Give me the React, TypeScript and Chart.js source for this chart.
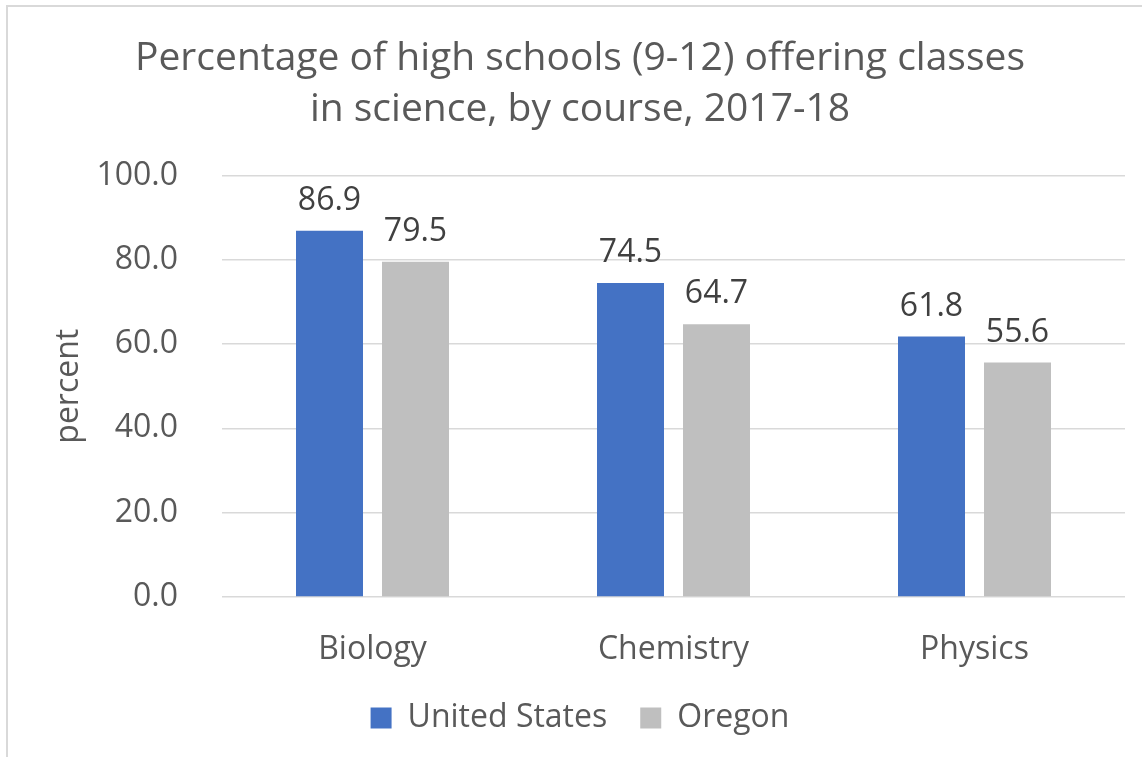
import React, { useEffect, useRef } from "react";
import { Chart, registerables } from "chart.js";

Chart.register(...registerables);

const categories = ["Biology", "Chemistry", "Physics"];
const unitedStates = [86.9, 74.5, 61.8];
const oregon = [79.5, 64.7, 55.6];
const seriesNames = ["United States", "Oregon"];
const titleLines = [
  "Percentage of high schools (9-12) offering classes",
  "in science, by course, 2017-18",
];
const yAxisTitle = "percent";

const FONT = "'Open Sans', 'Noto Sans', sans-serif";

const dataLabelPlugin = {
  id: "dataLabels",
  afterDatasetsDraw(chart: any) {
    const ctx = chart.ctx;
    ctx.save();
    ctx.font = `32px ${FONT}`;
    ctx.fillStyle = "#404040";
    ctx.textAlign = "center";
    ctx.textBaseline = "middle";
    chart.data.datasets.forEach((ds: any, i: number) => {
      const meta = chart.getDatasetMeta(i);
      meta.data.forEach((el: any, j: number) => {
        ctx.fillText(Number(ds.data[j]).toFixed(1), el.x, el.y - 30);
      });
    });
    ctx.restore();
  },
};

export default function App() {
  const ref = useRef<HTMLCanvasElement>(null);

  useEffect(() => {
    if (!ref.current) return;
    const chart = new Chart(ref.current, {
      type: "bar",
      data: {
        labels: categories,
        datasets: [
          {
            label: seriesNames[0],
            data: unitedStates,
            backgroundColor: "#4472C4",
            categoryPercentage: 0.5714,
            barPercentage: 0.779,
          },
          {
            label: seriesNames[1],
            data: oregon,
            backgroundColor: "#BFBFBF",
            categoryPercentage: 0.5714,
            barPercentage: 0.779,
          },
        ],
      },
      options: {
        responsive: false,
        animation: false,
        layout: { padding: { left: 35, right: 17, top: 0, bottom: 13 } },
        plugins: {
          title: {
            display: true,
            text: titleLines,
            color: "#595959",
            font: { family: FONT, size: 39, weight: "normal", lineHeight: 1.3 },
            padding: { top: 34, bottom: 40 },
          },
          legend: {
            position: "bottom",
            labels: {
              color: "#595959",
              font: { family: FONT, size: 32 },
              boxWidth: 21,
              boxHeight: 21,
              padding: 33,
            },
          },
          tooltip: { enabled: false },
        },
        scales: {
          x: {
            grid: { display: false },
            border: { display: false },
            ticks: {
              color: "#595959",
              font: { family: FONT, size: 32 },
              padding: 26,
            },
            afterFit(scale: any) {
              scale.height = 72;
            },
          },
          y: {
            min: 0,
            max: 100,
            grid: { color: "#D9D9D9", lineWidth: 1.5, drawTicks: false },
            border: { display: false },
            ticks: {
              stepSize: 20,
              color: "#595959",
              font: { family: FONT, size: 32 },
              padding: 44,
              callback: (v: any) => Number(v).toFixed(1),
            },
            title: {
              display: true,
              text: yAxisTitle,
              color: "#595959",
              font: { family: FONT, size: 32 },
              padding: { top: 15, bottom: 0 },
            },
            afterFit(scale: any) {
              scale.width = 187;
            },
          },
        },
      },
      plugins: [dataLabelPlugin],
    });
    return () => chart.destroy();
  }, []);

  return (
    <div
      style={{
        position: "fixed",
        left: 0,
        top: 0,
        width: 1142,
        height: 757,
        overflow: "hidden",
        background: "#fff",
      }}
    >
      <div
        style={{
          position: "absolute",
          left: 6,
          top: 5,
          width: 1300,
          height: 900,
          border: "2px solid #D9D9D9",
          boxSizing: "border-box",
        }}
      />
      <canvas
        ref={ref}
        width={1142}
        height={757}
        style={{ position: "absolute", left: 0, top: 0, width: 1142, height: 757 }}
      />
    </div>
  );
}
